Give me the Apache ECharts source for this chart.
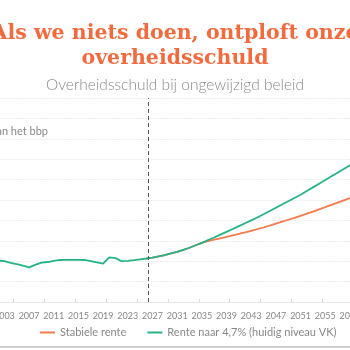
<!DOCTYPE html>
<html>
<head>
<meta charset="utf-8">
<script src="https://cdn.jsdelivr.net/npm/echarts@6/dist/echarts.min.js"></script>
<style>
html,body{margin:0;padding:0;background:#fff;}
#chart{width:350px;height:350px;}
</style>
</head>
<body>
<div id="chart"></div>
<script>
// ---- data ----
var histYears = [2002,2003,2004,2005,2006,2007,2008,2009,2010,2011,2012,2013,2014,2015,2016,2017,2018,2019,2020,2021,2022,2023,2024,2025];
var histDebt  = [50.8,50,48,46.5,44.5,42.5,45.5,48.2,49,50.5,51.5,51.6,51.7,51.7,51.5,50,48.5,47,54.8,53.8,50,50.5,51.3,52.3];

var projYears = [2026,2027,2028,2029,2030,2031,2032,2033,2034,2035,2036,2037,2038,2039,2040,2041,2042,2043,2044,2045,2046,2047,2048,2049,2050,2051,2052,2053,2054,2055,2056,2057,2058,2059,2060,2061,2062,2063];
var stableRate = [53.3,54.5,56,57.5,59.5,61.5,64,66.5,69.5,72.5,74.5,76.3,78.1,79.9,81.7,83.5,85.4,87.3,89.2,91.3,93.6,96,98.4,100.8,103.2,105.6,108.2,110.8,113.5,116.2,119,121.8,124.6,127.4,130.2,133,135.8,138.6];
var ukRate     = [53.3,54.5,56,57.5,59.5,61.5,64,66.5,69.5,72.5,76,79,82.5,86,89.5,93,96.5,100,103.5,107.5,111.5,115.5,119.5,123.5,127.5,131.5,136,140.5,145,149.5,154,158.5,163,167.5,172,176.5,181,185.5];

var seriesNames = ['Stabiele rente', 'Rente naar 4,7% (huidig niveau VK)'];
var titleText = 'Als we niets doen, ontploft onze\noverheidsschuld';
var subtitleText = 'Overheidsschuld bij ongewijzigd beleid';
var unitText = 'In % van het bbp';
var projectionStart = 2026.3;
var firstLabelYear = 2003, labelStep = 4;

// ---- build ----
function pairs(xs, ys){ return xs.map(function(x,i){ return [x, ys[i]]; }); }
var greenData = pairs(histYears, histDebt).concat(pairs(projYears, ukRate));
var orangeData = pairs(projYears, stableRate);

var chart = echarts.init(document.getElementById('chart'), null, {renderer:'canvas'});
var option = {
  animation: false,
  backgroundColor: '#fff',
  title: [{
    text: titleText,
    left: 'center',
    top: 16,
    textStyle: {
      fontFamily: 'DejaVu Serif',
      fontWeight: 'bold',
      fontSize: 20.5,
      lineHeight: 25,
      color: '#F26B3F'
    }
  },{
    text: subtitleText,
    left: 'center',
    top: 72,
    textStyle: {
      fontFamily: 'Lato',
      fontWeight: 300,
      fontSize: 15.5,
      color: '#8a8a8a'
    }
  }],
  legend: {
    bottom: 7,
    left: 35,
    itemWidth: 15,
    itemHeight: 2,
    itemGap: 21,
    icon: 'rect',
    textStyle: {fontFamily: 'Lato', fontSize: 11, color: '#888'},
    data: seriesNames
  },
  grid: {
    left: -17.2,
    right: -27.7,
    top: 98,
    bottom: 48,
    outerBoundsMode: 'none',
    containLabel: false
  },
  xAxis: [{
    type: 'value',
    min: 1999.5,
    max: 2063.5,
    interval: 0.5,
    axisLine: {show: true, lineStyle: {color: '#e6e6e6'}},
    axisTick: {show: false},
    splitLine: {show: false},
    axisLabel: {
      fontFamily: 'Lato',
      fontSize: 9,
      color: '#888',
      margin: 10,
      formatter: function(v){
        return (Number.isInteger(v) && ((v - firstLabelYear) % labelStep === 0)) ? String(v) : '';
      }
    }
  },{
    type: 'value',
    position: 'bottom',
    min: 2000,
    max: 2064,
    interval: 5,
    axisLine: {show: false},
    axisTick: {show: true, length: 3, inside: true, lineStyle: {color: '#dddddd'}},
    axisLabel: {show: false},
    splitLine: {show: false}
  }],
  yAxis: {
    type: 'value',
    min: 0,
    max: 250,
    interval: 25,
    axisLine: {show: false},
    axisTick: {show: false},
    axisLabel: {show: false},
    splitLine: {lineStyle: {color: '#ededed', type: [2,1], width: 1}}
  },
  graphic: [{
    type: 'text',
    style: {
      x: 48, y: 131,
      text: unitText,
      align: 'right',
      verticalAlign: 'middle',
      font: '11px Lato',
      fill: '#888'
    }
  },{
    type: 'rect',
    shape: {x: 0, y: 346, width: 350, height: 2},
    style: {fill: '#d0d0d0'}
  }],
  series: [{
    name: seriesNames[0],
    type: 'line',
    data: orangeData,
    showSymbol: false,
    symbol: 'none',
    lineStyle: {color: '#F57A4E', width: 1.8},
    itemStyle: {color: '#F57A4E'},
    z: 2
  },{
    name: seriesNames[1],
    type: 'line',
    data: greenData,
    showSymbol: false,
    symbol: 'none',
    lineStyle: {color: '#24B487', width: 1.8},
    itemStyle: {color: '#24B487'},
    z: 3,
    markLine: {
      silent: true,
      symbol: ['none','none'],
      label: {show: false},
      lineStyle: {color: '#555', type: [4,3], width: 1},
      data: [{xAxis: projectionStart}]
    }
  }]
};
chart.setOption(option);
</script>
</body>
</html>
